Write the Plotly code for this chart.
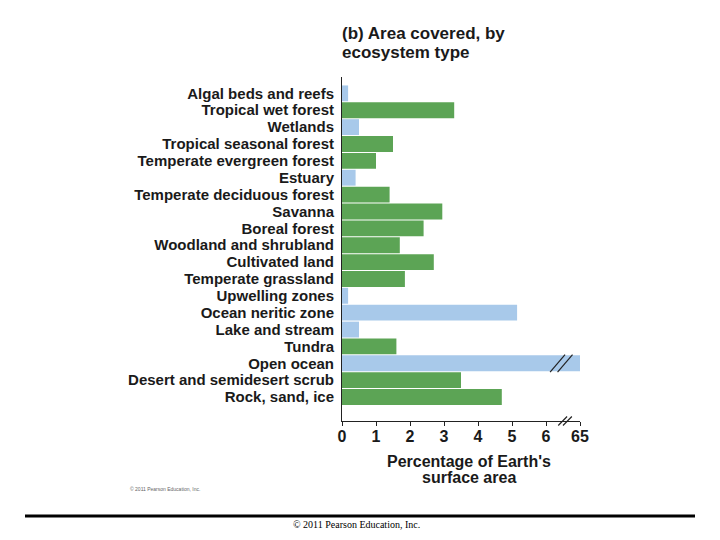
import plotly.graph_objects as go

# ---- data (top to bottom) ----
categories = [
    "Algal beds and reefs", "Tropical wet forest", "Wetlands",
    "Tropical seasonal forest", "Temperate evergreen forest", "Estuary",
    "Temperate deciduous forest", "Savanna", "Boreal forest",
    "Woodland and shrubland", "Cultivated land", "Temperate grassland",
    "Upwelling zones", "Ocean neritic zone", "Lake and stream", "Tundra",
    "Open ocean", "Desert and semidesert scrub", "Rock, sand, ice",
]
values = [0.18, 3.3, 0.5, 1.5, 1.0, 0.4, 1.4, 2.95, 2.4, 1.7, 2.7, 1.85,
          0.18, 5.15, 0.5, 1.6, 65.0, 3.5, 4.7]
kinds = ["aquatic", "land", "aquatic", "land", "land", "aquatic", "land",
         "land", "land", "land", "land", "land", "aquatic", "aquatic",
         "aquatic", "land", "aquatic", "land", "land"]
tick_values = [0, 1, 2, 3, 4, 5, 6, 65]
tick_labels = ["0", "1", "2", "3", "4", "5", "6", "65"]
title_lines = ["(b) Area covered, by", "ecosystem type"]
xtitle_lines = ["Percentage of Earth's", "surface area"]

# ---- styling ----
COLORS = {"land": "#5ca455", "aquatic": "#a8c9ea"}
BREAK_AT = 6.5      # values above this are drawn past the axis break
BREAK_POS = 7.0     # axis position where 65 is drawn
FONT = "Liberation Sans"


def to_axis(v):
    return v if v <= BREAK_AT else BREAK_POS + (v - 65.0) * 0.01


disp = [to_axis(v) for v in values]
tickpos = [to_axis(v) for v in tick_values]
n = len(categories)
idx = list(range(n))

fig = go.Figure(go.Bar(
    y=idx, x=disp, orientation="h",
    marker=dict(color=[COLORS[k] for k in kinds], line=dict(width=0)),
    customdata=values, hovertext=categories, textposition="none",
    hovertemplate="%{hovertext}: %{customdata}%<extra></extra>",
))

W, H = 720, 540
L, R, T, B = 342, 140, 77, 119

# break marks on the long bar and on the axis
brk_i = [i for i, v in enumerate(values) if v > BREAK_AT][0]
shapes = []
for cx in (6.34, 6.56):
    shapes.append(dict(type="line", xref="x", yref="y",
                       x0=cx - 0.22, x1=cx + 0.22,
                       y0=brk_i + 0.52, y1=brk_i - 0.52,
                       line=dict(color="#222", width=1.2)))
for cx in (6.49, 6.63):
    shapes.append(dict(type="line", xref="x", yref="paper",
                       x0=cx - 0.13, x1=cx + 0.13,
                       y0=-0.013, y1=0.013,
                       line=dict(color="#222", width=1.2)))
# bottom rule
ry = -(516 - (H - B)) / (H - T - B)
shapes.append(dict(type="line", xref="paper", yref="paper",
                   x0=(25 - L) / (W - L - R), x1=(695 - L) / (W - L - R),
                   y0=ry, y1=ry,
                   line=dict(color="black", width=3)))


def px_to_paper(xp, yp):
    return (xp - L) / (W - L - R), 1 - (yp - T) / (H - T - B)


annotations = []
for line, yc in zip(title_lines, (33, 52)):
    ax, ay = px_to_paper(340, yc)
    annotations.append(dict(x=ax, y=ay, xref="paper", yref="paper",
                            xanchor="left", yanchor="middle", showarrow=False,
                            text=f"<b>{line}</b>",
                            font=dict(family=FONT, size=17, color="#1a1a1a")))
for line, yc in zip(xtitle_lines, (461, 477)):
    ax, ay = px_to_paper(469, yc)
    annotations.append(dict(x=ax, y=ay, xref="paper", yref="paper",
                            xanchor="center", yanchor="middle", showarrow=False,
                            text=f"<b>{line}</b>",
                            font=dict(family=FONT, size=16, color="#1a1a1a")))
ax, ay = px_to_paper(128, 489)
annotations.append(dict(x=ax, y=ay, xref="paper", yref="paper",
                        xanchor="left", yanchor="middle", showarrow=False,
                        text="© 2011 Pearson Education, Inc.",
                        font=dict(family=FONT, size=5, color="#666")))
ax, ay = px_to_paper(356, 524)
annotations.append(dict(x=ax, y=ay, xref="paper", yref="paper",
                        xanchor="center", yanchor="middle", showarrow=False,
                        text="© 2011 Pearson Education, Inc.",
                        font=dict(family="Liberation Serif", size=10, color="black")))

fig.update_layout(
    width=W, height=H,
    margin=dict(l=L, r=R, t=T, b=B, pad=0),
    paper_bgcolor="white", plot_bgcolor="white",
    bargap=0.06, showlegend=False,
    shapes=shapes, annotations=annotations,
    xaxis=dict(range=[0, BREAK_POS], tickvals=tickpos, ticktext=tick_labels,
               showgrid=False, zeroline=False, showline=True,
               linecolor="#222", linewidth=1, ticks="outside", ticklen=4,
               tickcolor="#222", ticklabelstandoff=-3,
               tickfont=dict(family=FONT, size=16, color="#1a1a1a", weight="bold")),
    yaxis=dict(range=[n - 1 + 1.42, -0.97], tickvals=idx, ticktext=categories,
               showgrid=False, zeroline=False, showline=True,
               linecolor="#222", linewidth=1, ticks="", ticklabelstandoff=4,
               tickfont=dict(family=FONT, size=15, color="#1a1a1a", weight="bold")),
)

fig.write_html("out.html", config={"displayModeBar": False},
               post_script="document.body.style.margin='0';")
